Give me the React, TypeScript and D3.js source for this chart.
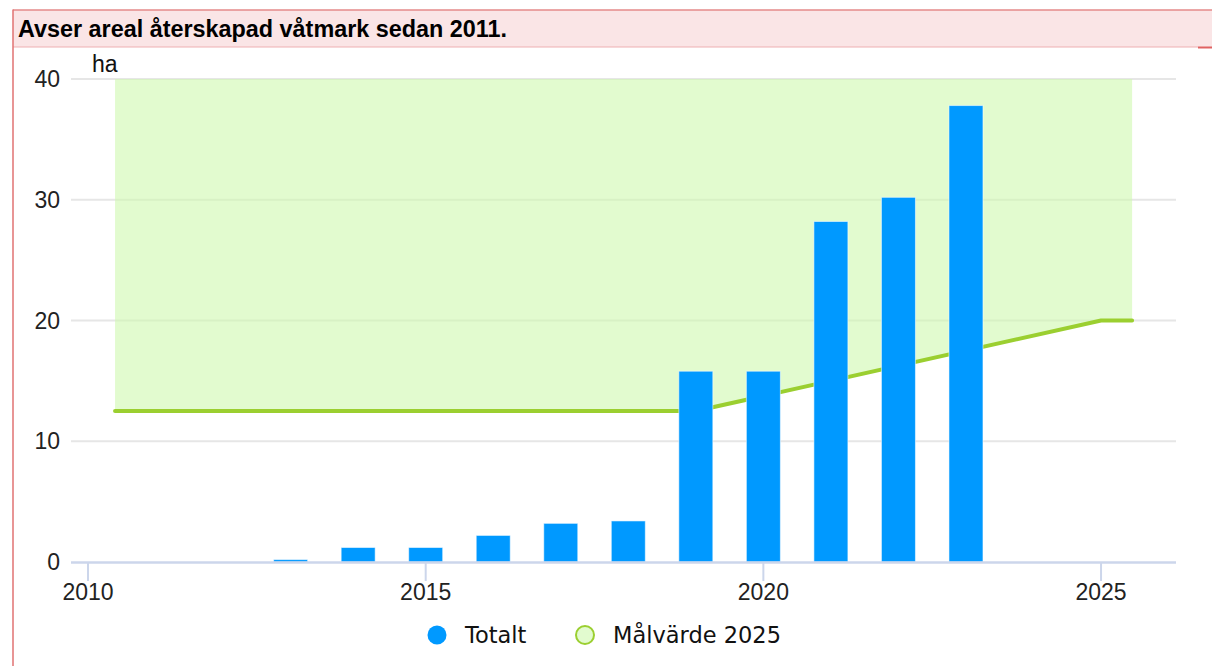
import React, { useEffect, useRef } from 'react';
import * as d3 from 'd3';

// chart data
const titleText = 'Avser areal återskapad våtmark sedan 2011.';
const unitLabel = 'ha';
const barYears = [2013, 2014, 2015, 2016, 2017, 2018, 2019, 2020, 2021, 2022, 2023];
const totaltValues = [0.2, 1.2, 1.2, 2.2, 3.2, 3.4, 15.8, 15.8, 28.2, 30.2, 37.8];
const targetYears = [2010.4, 2019, 2025, 2025.46];
const targetValues = [12.5, 12.5, 20, 20];
const yTickValues = [0, 10, 20, 30, 40];
const xTickValues = [2010, 2015, 2020, 2025];
const legendNames = ['Totalt', 'Målvärde 2025'];

const WIDTH = 1212;
const HEIGHT = 666;

export default function App() {
  const ref = useRef<SVGSVGElement | null>(null);

  useEffect(() => {
    const svg = d3.select(ref.current);
    svg.selectAll('*').remove();

    /* ========>> frame + title <<======== */
    svg
      .append('rect')
      .attr('x', 13)
      .attr('y', 10)
      .attr('width', WIDTH - 13)
      .attr('height', 37)
      .attr('fill', '#fae5e6');
    svg
      .append('line')
      .attr('x1', 13)
      .attr('x2', WIDTH)
      .attr('y1', 10)
      .attr('y2', 10)
      .attr('stroke', '#e58a8a')
      .attr('stroke-width', 1.5);
    svg
      .append('line')
      .attr('x1', 13)
      .attr('x2', 1198)
      .attr('y1', 47)
      .attr('y2', 47)
      .attr('stroke', '#eeb0b2')
      .attr('stroke-width', 1.2);
    svg
      .append('line')
      .attr('x1', 1198)
      .attr('x2', WIDTH)
      .attr('y1', 47.5)
      .attr('y2', 47.5)
      .attr('stroke', '#e06262')
      .attr('stroke-width', 2);
    svg
      .append('line')
      .attr('x1', 13)
      .attr('x2', 13)
      .attr('y1', 9.5)
      .attr('y2', HEIGHT)
      .attr('stroke', '#e07272')
      .attr('stroke-width', 1.5);
    svg
      .append('text')
      .attr('x', 18)
      .attr('y', 37)
      .attr('font-family', 'Liberation Sans, Arial, sans-serif')
      .attr('font-weight', 'bold')
      .attr('font-size', 23.5)
      .attr('textLength', 489)
      .attr('lengthAdjust', 'spacingAndGlyphs')
      .attr('fill', '#000')
      .text(titleText);

    /* ========>> scales <<======== */
    const x = d3.scaleLinear().domain([2009.748, 2026.11]).range([71, 1176]);
    const y = d3.scaleLinear().domain([0, 40]).range([562, 79]);
    const labelFont = 'Liberation Sans, Arial, sans-serif';

    // gridlines
    svg
      .append('g')
      .selectAll('line')
      .data(yTickValues.filter((d) => d > 0))
      .enter()
      .append('line')
      .attr('x1', 71)
      .attr('x2', 1176)
      .attr('y1', (d) => y(d))
      .attr('y2', (d) => y(d))
      .attr('stroke', '#e6e6e6')
      .attr('stroke-width', 2);

    // y labels
    svg
      .append('g')
      .selectAll('text')
      .data(yTickValues)
      .enter()
      .append('text')
      .attr('x', 60)
      .attr('y', (d) => y(d) + 8)
      .attr('text-anchor', 'end')
      .attr('font-family', labelFont)
      .attr('font-size', 23)
      .attr('fill', '#222')
      .text((d) => d);

    svg
      .append('text')
      .attr('x', 92)
      .attr('y', 72)
      .attr('font-family', labelFont)
      .attr('font-size', 23)
      .attr('fill', '#111')
      .text(unitLabel);

    /* ========>> target area + line <<======== */
    const targetData = targetYears.map((yr, i) => ({ yr, v: targetValues[i] }));
    const area = d3
      .area<{ yr: number; v: number }>()
      .x((d) => x(d.yr))
      .y0((d) => y(d.v))
      .y1(y(40));
    svg
      .append('path')
      .datum(targetData)
      .attr('d', area)
      .attr('fill', 'rgb(207,248,175)')
      .attr('fill-opacity', 0.6);

    const line = d3
      .line<{ yr: number; v: number }>()
      .x((d) => x(d.yr))
      .y((d) => y(d.v));
    svg
      .append('path')
      .datum(targetData)
      .attr('d', line)
      .attr('fill', 'none')
      .attr('stroke', '#9bcf30')
      .attr('stroke-width', 4)
      .attr('stroke-linecap', 'round')
      .attr('stroke-linejoin', 'round');

    /* ========>> bars <<======== */
    const barWidth = 34;
    svg
      .append('g')
      .selectAll('rect')
      .data(barYears)
      .enter()
      .append('rect')
      .attr('x', (d) => x(d) - barWidth / 2)
      .attr('y', (d, i) => y(totaltValues[i]))
      .attr('width', barWidth)
      .attr('height', (d, i) => y(0) - y(totaltValues[i]))
      .attr('fill', '#0099ff')
      .attr('stroke', 'rgba(255,255,255,0.55)')
      .attr('stroke-width', 1);

    /* ========>> x axis <<======== */
    svg
      .append('line')
      .attr('x1', 71)
      .attr('x2', 1176)
      .attr('y1', y(0) + 0.5)
      .attr('y2', y(0) + 0.5)
      .attr('stroke', '#ccd6eb')
      .attr('stroke-width', 2.5);
    const xt = svg.append('g');
    xt.selectAll('line')
      .data(xTickValues)
      .enter()
      .append('line')
      .attr('x1', (d) => x(d))
      .attr('x2', (d) => x(d))
      .attr('y1', y(0))
      .attr('y2', y(0) + 19)
      .attr('stroke', '#ccd6eb')
      .attr('stroke-width', 2);
    xt.selectAll('text')
      .data(xTickValues)
      .enter()
      .append('text')
      .attr('x', (d) => x(d))
      .attr('y', 600)
      .attr('text-anchor', 'middle')
      .attr('font-family', labelFont)
      .attr('font-size', 23)
      .attr('fill', '#222')
      .text((d) => d);

    /* ========>> legend <<======== */
    const legendFont = 'DejaVu Sans, sans-serif';
    const lg = svg.append('g');
    lg.append('circle')
      .attr('cx', 437)
      .attr('cy', 635)
      .attr('r', 9.5)
      .attr('fill', '#0099ff');
    lg.append('text')
      .attr('x', 465)
      .attr('y', 643)
      .attr('font-family', legendFont)
      .attr('font-size', 22.5)
      .attr('fill', '#111')
      .text(legendNames[0]);
    lg.append('circle')
      .attr('cx', 585)
      .attr('cy', 635)
      .attr('r', 9)
      .attr('fill', '#e2fbcf')
      .attr('stroke', '#9bcf30')
      .attr('stroke-width', 2);
    lg.append('text')
      .attr('x', 613)
      .attr('y', 643)
      .attr('font-family', legendFont)
      .attr('font-size', 22.5)
      .attr('fill', '#111')
      .text(legendNames[1]);
  }, []);

  return (
    <div style={{ position: 'absolute', left: 0, top: 0 }}>
      <svg ref={ref} width={WIDTH} height={HEIGHT} style={{ display: 'block', background: '#fff' }} />
    </div>
  );
}
